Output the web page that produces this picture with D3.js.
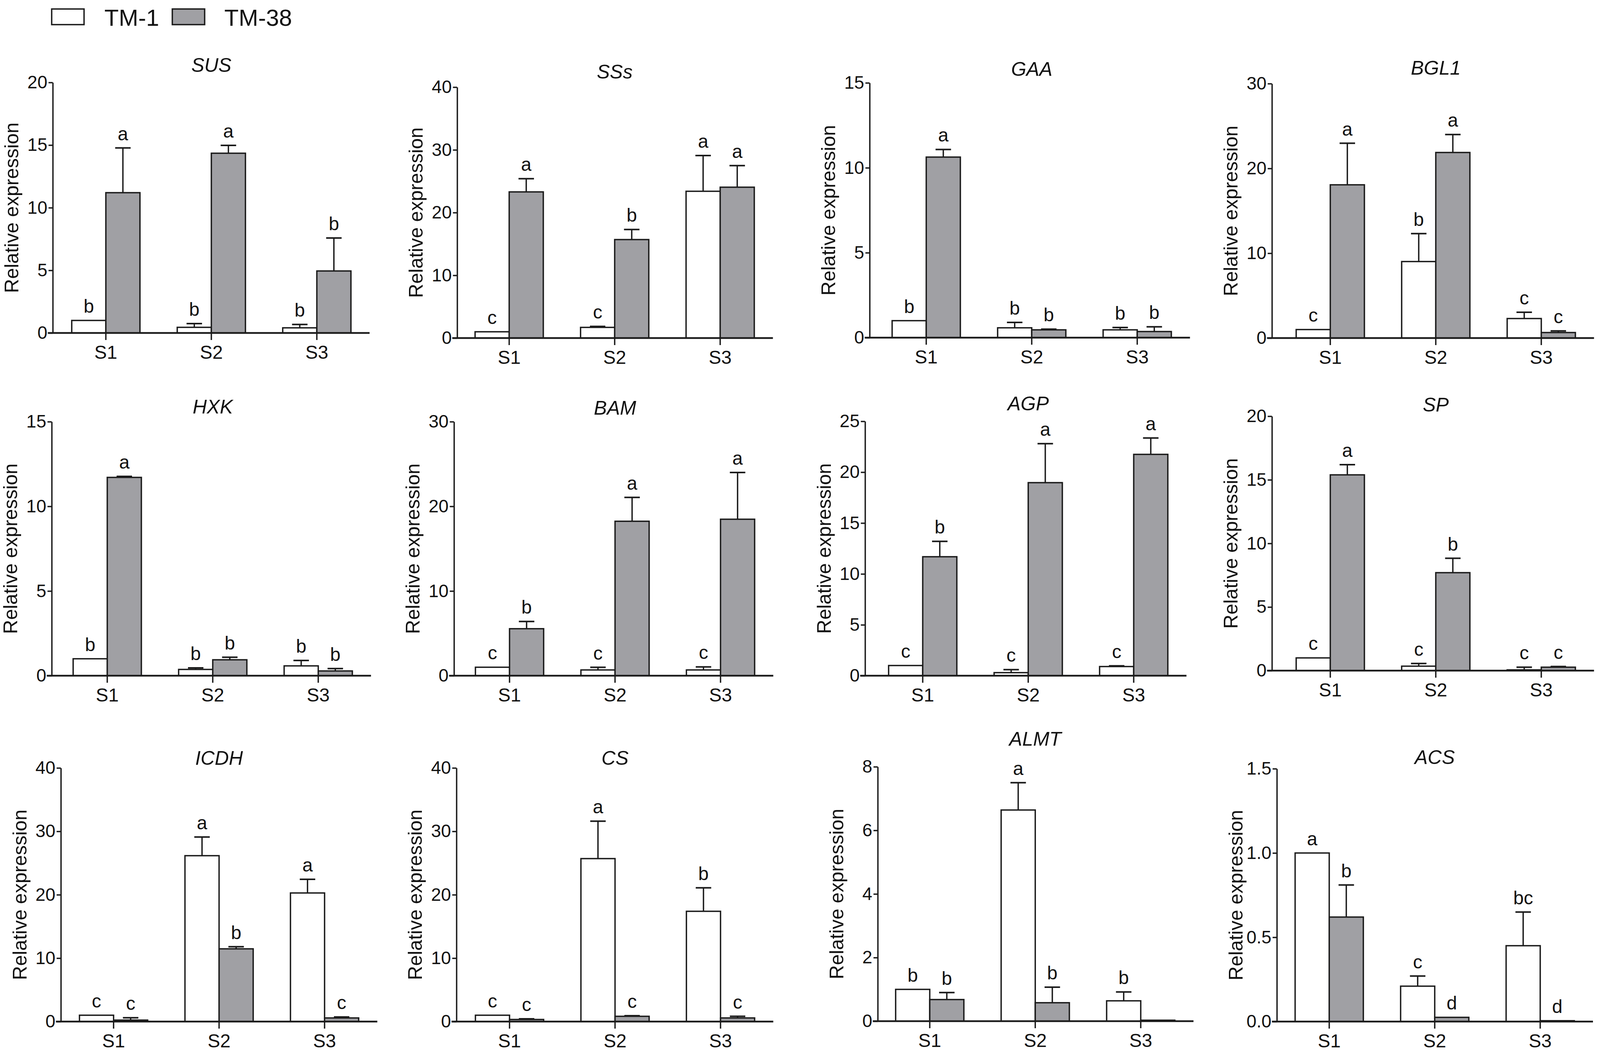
<!DOCTYPE html>
<html>
<head>
<meta charset="utf-8">
<script src="https://cdnjs.cloudflare.com/ajax/libs/d3/7.8.5/d3.min.js"></script>
<style>
  html, body { margin: 0; padding: 0; background: #ffffff; overflow: hidden; }
  svg { display: block; font-family: 'Liberation Sans', Arial, sans-serif; }
</style>
</head>
<body>
<svg id="chart"></svg>
<script>
/* ------------------------------- data ------------------------------- */
const series = ['TM-1', 'TM-38'];
const stages = ['S1', 'S2', 'S3'];
const genes = ['SUS', 'SSs', 'GAA', 'BGL1', 'HXK', 'BAM', 'AGP', 'SP', 'ICDH', 'CS', 'ALMT', 'ACS'];

const yMax = [20, 40, 15, 30, 15, 30, 25, 20, 40, 40, 8, 1.5];
const yTicks = [
  [0, 5, 10, 15, 20], [0, 10, 20, 30, 40], [0, 5, 10, 15], [0, 10, 20, 30],
  [0, 5, 10, 15], [0, 10, 20, 30], [0, 5, 10, 15, 20, 25], [0, 5, 10, 15, 20],
  [0, 10, 20, 30, 40], [0, 10, 20, 30, 40], [0, 2, 4, 6, 8], [0, 0.5, 1.0, 1.5],
];
const yDecimals = [0, 0, 0, 0, 0, 0, 0, 0, 0, 0, 0, 1];

const tm1Mean = [
  [1.0, 0.45, 0.41], [1.0, 1.7, 23.4], [1.0, 0.58, 0.46], [1.0, 9.02, 2.3],
  [1.0, 0.37, 0.58], [1.0, 0.68, 0.68], [1.0, 0.3, 0.9], [1.0, 0.35, 0.06],
  [1.0, 26.16, 20.28], [1.0, 25.7, 17.39], [1.0, 6.64, 0.64], [1.0, 0.21, 0.45],
];
const tm1Err = [
  [0, 0.3, 0.27], [0, 0.16, 5.7], [0, 0.32, 0.14], [0, 3.3, 0.74],
  [0, 0.09, 0.32], [0, 0.31, 0.36], [0, 0.3, 0.07], [0, 0.21, 0.21],
  [0, 2.94, 2.16], [0, 5.9, 3.7], [0, 0.86, 0.28], [0, 0.06, 0.2],
];
const tm38Mean = [
  [11.2, 14.35, 4.95], [23.3, 15.7, 24.05], [10.63, 0.46, 0.36], [18.07, 21.88, 0.65],
  [11.71, 0.94, 0.28], [5.55, 18.24, 18.48], [11.69, 18.97, 21.75], [15.39, 7.7, 0.27],
  [0.23, 11.47, 0.57], [0.33, 0.83, 0.57], [0.68, 0.58, 0.03], [0.62, 0.025, 0.005],
];
const tm38Err = [
  [3.57, 0.63, 2.63], [2.1, 1.6, 3.45], [0.45, 0.04, 0.28], [4.9, 2.12, 0.19],
  [0.06, 0.15, 0.14], [0.85, 2.82, 5.52], [1.51, 3.83, 1.61], [0.8, 1.13, 0.05],
  [0.37, 0.33, 0.16], [0.1, 0.1, 0.26], [0.22, 0.49, 0], [0.19, 0, 0],
];
const tm1Letters = [
  ['b', 'b', 'b'], ['c', 'c', 'a'], ['b', 'b', 'b'], ['c', 'b', 'c'],
  ['b', 'b', 'b'], ['c', 'c', 'c'], ['c', 'c', 'c'], ['c', 'c', 'c'],
  ['c', 'a', 'a'], ['c', 'a', 'b'], ['b', 'a', 'b'], ['a', 'c', 'bc'],
];
const tm38Letters = [
  ['a', 'a', 'b'], ['a', 'b', 'a'], ['a', 'b', 'b'], ['a', 'a', 'c'],
  ['a', 'b', 'b'], ['b', 'a', 'a'], ['b', 'a', 'a'], ['a', 'b', 'c'],
  ['c', 'b', 'c'], ['c', 'c', 'c'], ['b', 'b', ''], ['b', 'd', 'd'],
];

/* ------------------------------ layout ------------------------------ */
// measured on a 4550 x 2697 sheet; rescaled to whatever the window is
// per panel: y-axis x, S1 centre, top tick y, zero y, title centre y
const panelLayout = [
  [150, 301, 211, 852, 166], [1300, 1448, 223, 865, 183], [2473, 2634, 212, 864, 176], [3617, 3783, 214, 865, 173],
  [147, 305, 1079, 1729, 1040], [1291, 1449, 1079, 1729, 1043], [2460, 2624, 1078, 1729, 1032], [3617, 3783, 1065, 1716, 1035],
  [173, 323, 1965, 2614, 1939], [1298, 1449, 1965, 2614, 1939], [2496, 2644, 1962, 2613, 1890], [3631, 3780, 1967, 2614, 1937],
];

const sheetW = 4550;
const sheetH = 2697;
const width = window.innerWidth || sheetW;
const height = window.innerHeight || sheetH;
const kx = width / sheetW;
const ky = height / sheetH;

const step = 300 * kx;
const barWidth = 97 * kx;
const capWidth = 44 * kx;

const colors = { 'TM-1': '#ffffff', 'TM-38': '#a0a0a4' };
const ink = '#1b1b1b';

const fonts = { tick: 46, label: 50, cat: 48, letter: 48, title: 50, legend: 60 };

const svg = d3.select('#chart').attr('width', width).attr('height', height);

/* ------------------------------ legend ------------------------------ */
const legend = svg.append('g');
const legendX = [147, 490];
const legendTextX = [297, 638];
series.forEach((s, k) => {
  legend.append('rect')
    .attr('x', legendX[k] * kx).attr('y', 23 * ky)
    .attr('width', 92 * kx).attr('height', 40 * ky)
    .attr('fill', colors[s]).attr('stroke', ink).attr('stroke-width', 3.5);
  legend.append('text')
    .attr('x', legendTextX[k] * kx).attr('y', 66 * ky)
    .style('font-size', `${fonts.legend}px`)
    .attr('fill', '#111')
    .text(s);
});

/* ------------------------------ panels ------------------------------ */
const drawPanel = (i) => {
  const [ax, s1, top, zero, titleC] = panelLayout[i];
  const axisX = ax * kx;
  const s1X = s1 * kx;
  const topY = top * ky;
  const zeroY = zero * ky;
  const g = svg.append('g');

  const x = d3.scaleBand().domain(stages).range([s1X - step / 2, s1X + step * 2.5]);
  const xSub = d3.scaleBand().domain(series).range([0, barWidth * 2]);
  const y = d3.scaleLinear().domain([0, yMax[i]]).range([zeroY, topY]);

  const rows = [];
  stages.forEach((st, j) => {
    rows.push({ stage: st, s: 'TM-1', mean: tm1Mean[i][j], err: tm1Err[i][j], letter: tm1Letters[i][j] });
    rows.push({ stage: st, s: 'TM-38', mean: tm38Mean[i][j], err: tm38Err[i][j], letter: tm38Letters[i][j] });
  });
  const left = (d) => x(d.stage) + x.bandwidth() / 2 - barWidth + xSub(d.s);
  const mid = (d) => left(d) + xSub.bandwidth() / 2;

  g.selectAll('rect.bar')
    .data(rows)
    .enter()
    .append('rect')
    .attr('class', 'bar')
    .attr('x', left)
    .attr('y', (d) => y(d.mean))
    .attr('width', xSub.bandwidth())
    .attr('height', (d) => y(0) - y(d.mean))
    .attr('fill', (d) => colors[d.s])
    .attr('stroke', ink)
    .attr('stroke-width', 3.5);

  const withErr = rows.filter((d) => d.err > 0);
  g.selectAll('line.err')
    .data(withErr)
    .enter()
    .append('line')
    .attr('x1', mid).attr('x2', mid)
    .attr('y1', (d) => y(d.mean))
    .attr('y2', (d) => y(d.mean + d.err))
    .attr('stroke', ink).attr('stroke-width', 3.5);
  g.selectAll('line.cap')
    .data(withErr)
    .enter()
    .append('line')
    .attr('x1', (d) => mid(d) - capWidth / 2)
    .attr('x2', (d) => mid(d) + capWidth / 2)
    .attr('y1', (d) => y(d.mean + d.err))
    .attr('y2', (d) => y(d.mean + d.err))
    .attr('stroke', ink).attr('stroke-width', 4);

  g.selectAll('text.letter')
    .data(rows.filter((d) => d.letter))
    .enter()
    .append('text')
    .attr('x', mid)
    .attr('y', (d) => y(d.mean + d.err) - 20 * ky)
    .attr('text-anchor', 'middle')
    .style('font-size', `${fonts.letter}px`)
    .attr('fill', '#111')
    .text((d) => d.letter);

  // y axis
  const yAxis = g.append('g')
    .attr('transform', `translate(${axisX},0)`)
    .call(
      d3.axisLeft(y)
        .tickValues(yTicks[i])
        .tickSize(12 * kx)
        .tickPadding(3)
        .tickSizeOuter(0)
        .tickFormat(d3.format(`.${yDecimals[i]}f`))
    );
  yAxis.selectAll('path, line').attr('stroke', ink).attr('stroke-width', 3.5);
  yAxis.selectAll('text').style('font-size', `${fonts.tick}px`).attr('fill', '#111');

  // x axis
  const xAxis = g.append('g')
    .attr('transform', `translate(0,${zeroY})`)
    .call(d3.axisBottom(x).tickSize(18 * ky).tickPadding(14 * ky).tickSizeOuter(0));
  xAxis.select('.domain').remove();
  xAxis.append('line')
    .attr('x1', axisX - 14 * kx).attr('x2', x.range()[1])
    .attr('stroke', ink).attr('stroke-width', 4.5);
  xAxis.selectAll('.tick line').attr('stroke', ink).attr('stroke-width', 3.5);
  xAxis.selectAll('text').style('font-size', `${fonts.cat}px`).attr('fill', '#111');

  // axis title
  g.append('text')
    .attr('transform', `translate(${(ax - 100) * kx + 2},${(topY + zeroY) / 2}) rotate(-90)`)
    .attr('text-anchor', 'middle')
    .style('font-size', `${fonts.label}px`)
    .attr('fill', '#111')
    .text('Relative expression');

  // gene name
  g.append('text')
    .attr('x', x('S2') + x.bandwidth() / 2)
    .attr('y', (titleC + 18) * ky)
    .attr('text-anchor', 'middle')
    .style('font-size', `${fonts.title}px`)
    .style('font-style', 'italic')
    .attr('fill', '#111')
    .text(genes[i]);
};

genes.forEach((gene, i) => drawPanel(i));
</script>
</body>
</html>
